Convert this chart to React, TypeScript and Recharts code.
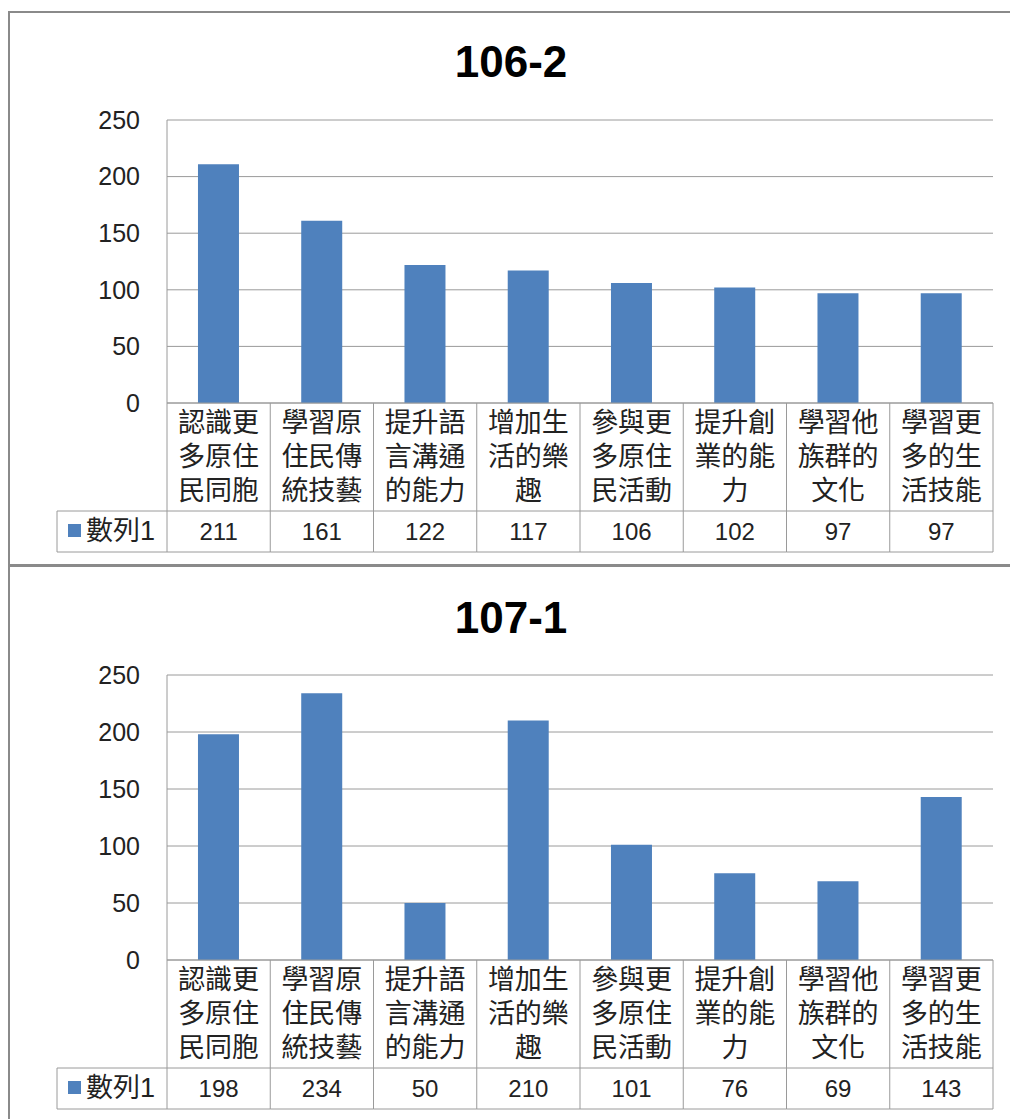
import React from 'react';
import { BarChart, Bar, XAxis, YAxis, CartesianGrid } from 'recharts';

const categories = [
  '認識更多原住民同胞',
  '學習原住民傳統技藝',
  '提升語言溝通的能力',
  '增加生活的樂趣',
  '參與更多原住民活動',
  '提升創業的能力',
  '學習他族群的文化',
  '學習更多的生活技能',
];
const values1062 = [211, 161, 122, 117, 106, 102, 97, 97];
const values1071 = [198, 234, 50, 210, 101, 76, 69, 143];
const yTicks = [0, 50, 100, 150, 200, 250];
const seriesName = '數列1';

const BLUE = '#4F81BD';
const LINE = '#9a9a9a';
const TEXT = '#222';
const FONT = '"Liberation Sans", "Noto Sans CJK TC", sans-serif';

const W = 1010;
const PLOT_LEFT = 167;
const PLOT_RIGHT = 17;
const CELL_W = (W - PLOT_LEFT - PLOT_RIGHT) / categories.length;
const LABEL_ROW = 108;
const TABLE_H = 149;
const LEGEND_W = 110;

function makeTick(values: number[]) {
  return (props: any) => {
    const { x, y, payload, index } = props;
    const label: string = payload.value;
    const lines = label.match(/.{1,3}/g) || [];
    const left = x - CELL_W / 2;
    const right = x + CELL_W / 2;
    return (
      <g>
        <line x1={left} y1={y} x2={left} y2={y + TABLE_H} stroke={LINE} />
        {index === categories.length - 1 && (
          <line x1={right} y1={y} x2={right} y2={y + TABLE_H} stroke={LINE} />
        )}
        <line x1={left} y1={y + LABEL_ROW} x2={right} y2={y + LABEL_ROW} stroke={LINE} />
        <line x1={left} y1={y + TABLE_H} x2={right} y2={y + TABLE_H} stroke={LINE} />
        {lines.map((ln, i) => (
          <text
            key={i}
            x={x}
            y={y + 20 + i * 34}
            textAnchor="middle"
            dominantBaseline="central"
            fontSize={27}
            fill={TEXT}
            fontFamily={FONT}
          >
            {ln}
          </text>
        ))}
        <text
          x={x}
          y={y + 128}
          textAnchor="middle"
          dominantBaseline="central"
          fontSize={24}
          fill={TEXT}
          fontFamily={FONT}
        >
          {values[index]}
        </text>
        {index === 0 && (
          <g>
            <line x1={left - LEGEND_W} y1={y + LABEL_ROW} x2={left} y2={y + LABEL_ROW} stroke={LINE} />
            <line x1={left - LEGEND_W} y1={y + TABLE_H} x2={left} y2={y + TABLE_H} stroke={LINE} />
            <line x1={left - LEGEND_W} y1={y + LABEL_ROW} x2={left - LEGEND_W} y2={y + TABLE_H} stroke={LINE} />
            <rect x={left - LEGEND_W + 11} y={y + 121} width={13} height={13} fill={BLUE} />
            <text
              x={left - LEGEND_W + 29}
              y={y + 128}
              dominantBaseline="central"
              fontSize={27}
              fill={TEXT}
              fontFamily={FONT}
            >
              {seriesName}
            </text>
          </g>
        )}
      </g>
    );
  };
}

function Panel({
  title,
  values,
  top,
  height,
  marginTop,
  marginBottom,
  titleTop,
}: {
  title: string;
  values: number[];
  top: number;
  height: number;
  marginTop: number;
  marginBottom: number;
  titleTop: number;
}) {
  const data = categories.map((name, i) => ({ name, value: values[i] }));
  return (
    <div style={{ position: 'absolute', left: 0, top, width: W, height }}>
      <div
        style={{
          position: 'absolute',
          left: 0,
          width: W + 12,
          top: titleTop,
          textAlign: 'center',
          fontFamily: FONT,
          fontWeight: 'bold',
          fontSize: 44,
          lineHeight: '44px',
          color: '#000',
        }}
      >
        {title}
      </div>
      <BarChart
        width={W}
        height={height}
        data={data}
        margin={{ top: marginTop, right: PLOT_RIGHT, bottom: marginBottom, left: PLOT_LEFT - 60 }}
        barCategoryGap="30%"
      >
        <CartesianGrid vertical={false} stroke={LINE} />
        <XAxis
          dataKey="name"
          interval={0}
          height={TABLE_H + 1}
          tickLine={false}
          tickSize={0}
          tickMargin={0}
          axisLine={{ stroke: LINE }}
          tick={makeTick(values)}
        />
        <YAxis
          width={60}
          domain={[0, 250]}
          ticks={yTicks}
          tickLine={false}
          tickSize={0}
          tickMargin={27}
          axisLine={{ stroke: LINE }}
          tick={{ fontSize: 25, fill: TEXT, fontFamily: FONT }}
        />
        <Bar dataKey="value" fill={BLUE} isAnimationActive={false} />
      </BarChart>
    </div>
  );
}

export default function App() {
  return (
    <div
      style={{
        position: 'absolute',
        left: 0,
        top: 0,
        width: W,
        height: 1119,
        overflow: 'hidden',
        background: '#fff',
      }}
    >
      <div
        style={{
          position: 'absolute',
          left: 8,
          top: 11,
          width: W + 20,
          height: 555,
          border: '2px solid #8a8a8a',
          boxSizing: 'border-box',
        }}
      />
      <div
        style={{
          position: 'absolute',
          left: 8,
          top: 565,
          width: W + 20,
          height: 600,
          border: '2px solid #8a8a8a',
          boxSizing: 'border-box',
        }}
      />
      <Panel title="106-2" values={values1062} top={0} height={566} marginTop={120} marginBottom={13} titleTop={40} />
      <Panel title="107-1" values={values1071} top={556} height={563} marginTop={119} marginBottom={9} titleTop={40} />
    </div>
  );
}
